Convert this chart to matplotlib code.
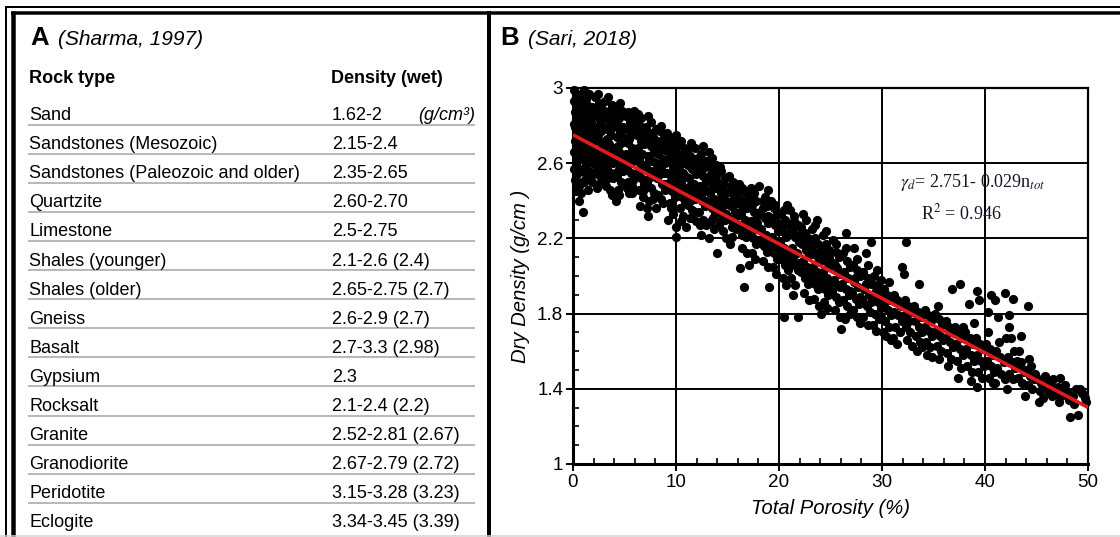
import matplotlib
matplotlib.use("Agg")
import matplotlib.pyplot as plt
from matplotlib.lines import Line2D
from matplotlib import font_manager
from matplotlib.ticker import MultipleLocator, FuncFormatter

# ---------------------------------------------------------------- data
rock_types = [
    "Sand", "Sandstones (Mesozoic)", "Sandstones (Paleozoic and older)",
    "Quartzite", "Limestone", "Shales (younger)", "Shales (older)", "Gneiss",
    "Basalt", "Gypsium", "Rocksalt", "Granite", "Granodiorite", "Peridotite",
    "Eclogite",
]
density_wet = [
    "1.62-2", "2.15-2.4", "2.35-2.65", "2.60-2.70", "2.5-2.75", "2.1-2.6 (2.4)",
    "2.65-2.75 (2.7)", "2.6-2.9 (2.7)", "2.7-3.3 (2.98)", "2.3", "2.1-2.4 (2.2)",
    "2.52-2.81 (2.67)", "2.67-2.79 (2.72)", "3.15-3.28 (3.23)", "3.34-3.45 (3.39)",
]
density_unit = "(g/cm³)"

# regression reported for the Sari (2018) data set
fit_intercept = 2.751
fit_slope = -0.029
fit_r2 = 0.946

# (total porosity %, dry density g/cm3) samples
samples_00_10 = [
    (0.1, 2.99), (0.3, 2.96), (0.1, 2.93), (0.4, 2.90), (0.2, 2.87), (0.5, 2.84), (0.1, 2.81),
    (0.3, 2.78), (0.6, 2.75), (0.2, 2.72), (0.4, 2.69), (0.1, 2.66), (0.5, 2.63), (0.3, 2.60),
    (0.1, 2.57), (0.4, 2.54), (0.2, 2.51), (0.6, 2.48), (0.3, 2.45), (0.8, 2.97), (0.7, 2.91),
    (0.9, 2.86), (0.7, 2.80), (0.9, 2.74), (0.8, 2.68), (0.7, 2.62), (0.9, 2.56), (0.6, 2.40),
    (0.5, 2.93), (0.2, 2.79), (0.7, 2.70), (0.4, 2.58), (0.9, 2.50), (0.5, 2.66), (0.8, 2.44),
    (1.1, 2.99), (1.3, 2.94), (1.6, 2.97), (1.2, 2.89), (1.5, 2.86), (1.8, 2.90), (1.1, 2.83),
    (1.4, 2.80), (1.7, 2.82), (1.2, 2.77), (1.6, 2.75), (1.9, 2.78), (1.3, 2.71), (1.5, 2.68),
    (1.8, 2.71), (1.1, 2.65), (1.4, 2.62), (1.7, 2.64), (1.2, 2.58), (1.6, 2.56), (1.9, 2.60),
    (1.3, 2.52), (1.8, 2.50), (1.5, 2.46), (1.0, 2.34),
    (1.4, 2.91), (1.9, 2.85), (1.2, 2.74), (1.7, 2.67), (1.3, 2.60), (1.9, 2.54), (1.1, 2.50),
    (2.1, 2.95), (2.5, 2.92), (2.8, 2.89), (2.2, 2.86), (2.6, 2.83), (2.9, 2.85), (2.3, 2.79),
    (2.7, 2.77), (2.1, 2.74), (2.5, 2.72), (2.8, 2.70), (2.2, 2.67), (2.6, 2.65), (2.9, 2.63),
    (2.4, 2.60), (2.7, 2.58), (2.2, 2.56), (2.6, 2.53), (2.9, 2.50), (2.3, 2.47),
    (2.4, 2.97), (2.3, 2.89), (2.8, 2.80), (2.4, 2.75), (2.9, 2.68), (2.3, 2.62), (2.8, 2.55),
    (2.5, 2.49),
    (3.1, 2.93), (3.5, 2.88), (3.8, 2.91), (3.2, 2.84), (3.6, 2.81), (3.9, 2.85), (3.3, 2.78),
    (3.7, 2.75), (3.1, 2.72), (3.5, 2.70), (3.8, 2.68), (3.2, 2.65), (3.6, 2.62), (3.9, 2.60),
    (3.3, 2.57), (3.7, 2.55), (3.4, 2.52), (3.8, 2.43), (3.2, 2.48),
    (3.4, 2.95), (3.4, 2.87), (3.9, 2.79), (3.3, 2.73), (3.9, 2.66), (3.4, 2.60), (3.9, 2.52),
    (3.6, 2.46),
    (4.1, 2.87), (4.5, 2.84), (4.8, 2.88), (4.2, 2.80), (4.6, 2.77), (4.9, 2.79), (4.3, 2.74),
    (4.7, 2.71), (4.1, 2.68), (4.5, 2.66), (4.8, 2.63), (4.2, 2.61), (4.6, 2.58), (4.9, 2.56),
    (4.3, 2.53), (4.7, 2.50), (4.4, 2.46), (4.6, 2.92), (4.2, 2.40),
    (4.4, 2.90), (4.3, 2.82), (4.9, 2.74), (4.4, 2.69), (4.9, 2.61), (4.4, 2.56), (4.9, 2.49),
    (4.5, 2.43),
    (5.1, 2.85), (5.5, 2.82), (5.9, 2.84), (5.2, 2.78), (5.6, 2.75), (5.9, 2.77), (5.3, 2.71),
    (5.7, 2.68), (5.1, 2.65), (5.5, 2.63), (5.8, 2.61), (5.2, 2.58), (5.6, 2.55), (5.9, 2.53),
    (5.3, 2.50), (5.7, 2.48), (5.4, 2.44), (5.7, 2.44), (5.9, 2.88),
    (5.3, 2.87), (5.8, 2.80), (5.4, 2.73), (5.9, 2.66), (5.4, 2.60), (5.8, 2.51), (5.2, 2.47),
    (6.1, 2.83), (6.0, 2.82), (6.5, 2.80), (6.8, 2.77), (6.2, 2.75), (6.6, 2.72), (6.9, 2.70),
    (6.3, 2.68), (6.7, 2.65), (6.1, 2.62), (6.5, 2.60), (6.8, 2.57), (6.2, 2.55), (6.6, 2.52),
    (6.9, 2.49), (6.4, 2.46), (6.5, 2.37), (6.8, 2.42), (6.3, 2.86),
    (6.6, 2.84), (6.4, 2.78), (6.9, 2.74), (6.4, 2.63), (6.9, 2.59), (6.4, 2.53), (6.8, 2.45),
    (7.3, 2.85), (7.1, 2.79), (7.5, 2.76), (7.8, 2.74), (7.2, 2.71), (7.6, 2.69), (7.9, 2.66),
    (7.3, 2.64), (7.7, 2.61), (7.1, 2.58), (7.5, 2.56), (7.8, 2.53), (7.2, 2.50), (7.6, 2.47),
    (7.9, 2.44), (7.3, 2.32), (7.4, 2.40),
    (7.6, 2.82), (7.4, 2.73), (7.9, 2.69), (7.4, 2.62), (7.9, 2.56), (7.4, 2.52), (7.8, 2.41),
    (7.2, 2.36),
    (8.1, 2.78), (8.5, 2.80), (8.8, 2.74), (8.2, 2.72), (8.6, 2.69), (8.9, 2.67), (8.3, 2.65),
    (8.7, 2.62), (8.1, 2.60), (8.5, 2.57), (8.8, 2.55), (8.2, 2.52), (8.6, 2.49), (8.9, 2.46),
    (8.3, 2.43), (8.1, 2.36), (8.7, 2.39),
    (8.4, 2.77), (8.9, 2.71), (8.4, 2.67), (8.9, 2.60), (8.4, 2.54), (8.9, 2.49), (8.5, 2.41),
    (9.1, 2.76), (9.5, 2.73), (9.8, 2.71), (9.2, 2.68), (9.6, 2.66), (9.9, 2.63), (9.3, 2.61),
    (9.7, 2.58), (9.1, 2.55), (9.5, 2.53), (9.8, 2.50), (9.2, 2.47), (9.6, 2.45), (9.9, 2.42),
    (9.4, 2.39), (9.7, 2.33), (9.2, 2.30),
    (9.4, 2.74), (9.9, 2.68), (9.4, 2.64), (9.9, 2.56), (9.4, 2.50), (9.9, 2.45), (9.5, 2.36),
]
samples_10_20 = [
    (10.0, 2.75), (10.4, 2.70), (10.8, 2.68), (10.2, 2.65), (10.6, 2.63), (10.9, 2.60),
    (10.3, 2.58), (10.7, 2.55), (10.1, 2.52), (10.5, 2.50), (10.8, 2.47), (10.2, 2.44),
    (10.6, 2.42), (10.9, 2.39), (10.4, 2.36), (10.0, 2.26), (10.0, 2.21), (10.7, 2.32),
    (10.5, 2.72), (10.9, 2.65), (10.4, 2.61), (10.9, 2.53), (10.4, 2.47), (10.9, 2.43),
    (10.5, 2.29),
    (11.5, 2.71), (11.1, 2.67), (11.4, 2.64), (11.8, 2.62), (11.2, 2.59), (11.6, 2.57),
    (11.9, 2.54), (11.3, 2.52), (11.7, 2.49), (11.1, 2.46), (11.5, 2.44), (11.8, 2.41),
    (11.2, 2.38), (11.6, 2.35), (11.0, 2.26), (11.4, 2.31), (11.9, 2.29),
    (11.8, 2.68), (11.4, 2.61), (11.9, 2.59), (11.4, 2.48), (11.9, 2.45), (11.4, 2.40),
    (11.8, 2.34),
    (12.6, 2.69), (12.1, 2.63), (12.4, 2.60), (12.8, 2.58), (12.2, 2.55), (12.6, 2.53),
    (12.9, 2.50), (12.3, 2.48), (12.7, 2.45), (12.1, 2.42), (12.5, 2.40), (12.8, 2.37),
    (12.2, 2.34), (12.6, 2.30), (12.9, 2.27), (12.4, 2.22),
    (12.4, 2.65), (12.9, 2.61), (12.4, 2.56), (12.9, 2.46), (12.4, 2.43), (12.9, 2.40),
    (12.3, 2.27),
    (13.2, 2.66), (13.1, 2.60), (13.5, 2.58), (13.8, 2.55), (13.2, 2.52), (13.6, 2.49),
    (13.9, 2.47), (13.3, 2.44), (13.7, 2.41), (13.1, 2.38), (13.5, 2.36), (13.8, 2.33),
    (13.4, 2.29), (13.7, 2.25), (13.2, 2.20),
    (13.5, 2.63), (13.9, 2.59), (13.4, 2.54), (13.9, 2.51), (13.4, 2.46), (13.9, 2.38),
    (13.6, 2.31),
    (14.0, 2.54), (14.4, 2.56), (14.8, 2.52), (14.2, 2.49), (14.6, 2.46), (14.9, 2.44),
    (14.3, 2.41), (14.7, 2.38), (14.1, 2.35), (14.5, 2.33), (14.8, 2.30), (14.2, 2.27),
    (14.6, 2.24), (14.0, 2.12), (14.9, 2.20),
    (14.3, 2.58), (14.7, 2.49), (14.4, 2.44), (14.9, 2.40), (14.4, 2.36), (14.9, 2.33),
    (14.4, 2.29),
    (15.1, 2.53), (15.5, 2.50), (15.8, 2.47), (15.2, 2.45), (15.6, 2.42), (15.9, 2.39),
    (15.3, 2.37), (15.7, 2.34), (15.1, 2.31), (15.5, 2.28), (15.8, 2.25), (15.2, 2.17),
    (15.4, 2.21), (15.4, 2.48), (15.9, 2.44), (15.4, 2.40), (15.9, 2.32), (15.4, 2.26),
    (16.1, 2.49), (16.5, 2.46), (16.8, 2.44), (16.2, 2.41), (16.6, 2.38), (16.9, 2.36),
    (16.3, 2.33), (16.7, 2.30), (16.1, 2.27), (16.5, 2.24), (16.8, 2.21), (16.2, 2.04),
    (16.6, 1.94), (16.4, 2.15), (16.9, 2.12),
    (16.4, 2.47), (16.9, 2.40), (16.4, 2.35), (16.9, 2.28), (16.4, 2.22),
    (17.1, 2.06), (17.3, 2.47), (17.5, 2.42), (17.8, 2.40), (17.2, 2.37), (17.6, 2.34),
    (17.9, 2.32), (17.3, 2.29), (17.7, 2.26), (17.1, 2.23), (17.5, 2.20), (17.8, 2.17),
    (17.4, 2.12), (17.7, 2.09),
    (17.6, 2.44), (17.4, 2.38), (17.9, 2.28), (17.4, 2.24), (17.9, 2.19),
    (18.1, 2.48), (18.9, 2.46), (18.4, 2.40), (18.8, 2.37), (18.2, 2.34), (18.6, 2.31),
    (18.9, 2.28), (18.3, 2.25), (18.7, 2.22), (18.1, 2.19), (18.5, 2.16), (18.8, 2.13),
    (18.4, 2.08), (18.9, 2.05),
    (18.6, 2.42), (18.4, 2.36), (18.9, 2.32), (18.4, 2.20), (18.9, 2.17),
    (19.0, 1.94), (19.2, 2.40), (19.5, 2.36), (19.8, 2.33), (19.2, 2.30), (19.6, 2.27),
    (19.9, 2.24), (19.3, 2.21), (19.7, 2.18), (19.1, 2.15), (19.5, 2.12), (19.8, 2.09),
    (19.4, 2.05), (19.7, 2.01),
    (19.6, 2.38), (19.4, 2.31), (19.9, 2.28), (19.4, 2.17), (19.9, 2.14),
]
samples_20_30 = [
    (20.8, 2.38), (20.5, 1.78), (20.2, 2.33), (20.6, 2.30), (20.9, 2.27), (20.3, 2.24),
    (20.7, 2.21), (20.1, 2.18), (20.5, 2.15), (20.8, 2.12), (20.2, 2.09), (20.6, 2.06),
    (20.9, 2.03), (20.4, 1.99), (20.7, 1.95),
    (20.5, 2.35), (20.4, 2.27), (20.9, 2.22), (20.4, 2.12), (20.9, 2.08),
    (21.8, 1.78), (21.1, 2.35), (21.5, 2.29), (21.8, 2.27), (21.2, 2.24), (21.6, 2.21),
    (21.9, 2.18), (21.3, 2.15), (21.7, 2.12), (21.1, 2.09), (21.5, 2.06), (21.8, 2.03),
    (21.2, 1.99), (21.6, 1.95), (21.4, 1.90),
    (21.5, 2.32), (21.4, 2.25), (21.9, 2.22), (21.4, 2.10), (21.9, 2.07),
    (22.3, 2.33), (22.1, 2.26), (22.5, 2.23), (22.8, 2.20), (22.2, 2.17), (22.6, 2.14),
    (22.9, 2.11), (22.3, 2.08), (22.7, 2.05), (22.1, 2.02), (22.5, 1.99), (22.8, 1.96),
    (22.4, 1.91), (22.9, 1.87),
    (22.6, 2.30), (22.4, 2.21), (22.9, 2.17), (22.4, 2.05), (22.9, 2.02),
    (23.7, 2.30), (23.2, 2.25), (23.5, 2.20), (23.8, 2.17), (23.2, 2.14), (23.6, 2.11),
    (23.9, 2.08), (23.3, 2.05), (23.7, 2.02), (23.1, 1.99), (23.5, 1.96), (23.8, 1.93),
    (23.4, 1.88), (23.9, 1.84),
    (23.5, 2.27), (23.4, 2.18), (23.9, 2.13), (23.4, 2.01), (23.9, 1.98),
    (24.1, 1.80), (24.3, 2.22), (24.6, 2.17), (24.9, 2.14), (24.2, 2.11), (24.6, 2.08),
    (24.9, 2.05), (24.3, 2.02), (24.7, 1.99), (24.1, 1.96), (24.5, 1.93), (24.8, 1.90),
    (24.4, 1.86), (24.7, 1.83),
    (24.6, 2.24), (24.4, 2.15), (24.9, 2.10), (24.4, 1.98), (24.9, 1.95),
    (25.2, 2.19), (25.5, 2.13), (25.8, 2.10), (25.2, 2.07), (25.6, 2.04), (25.9, 2.01),
    (25.3, 1.98), (25.7, 1.95), (25.1, 1.92), (25.5, 1.89), (25.8, 1.86), (25.4, 1.82),
    (25.9, 1.78), (25.5, 2.17), (25.4, 2.06), (25.9, 1.94),
    (26.5, 2.23), (26.0, 1.72), (26.2, 2.12), (26.6, 2.08), (26.9, 2.05), (26.3, 2.02),
    (26.7, 1.99), (26.1, 1.96), (26.5, 1.93), (26.8, 1.90), (26.2, 1.87), (26.6, 1.84),
    (26.9, 1.80), (26.4, 1.77), (26.5, 2.15), (26.4, 2.00), (26.9, 1.92),
    (27.3, 2.15), (27.2, 2.06), (27.6, 2.03), (27.9, 2.00), (27.3, 1.97), (27.7, 1.94),
    (27.1, 1.91), (27.5, 1.88), (27.8, 1.85), (27.2, 1.82), (27.6, 1.78), (27.9, 1.75),
    (27.6, 2.09), (27.4, 1.99), (27.9, 1.89),
    (28.4, 2.12), (28.2, 2.02), (28.6, 1.99), (28.9, 1.96), (28.3, 1.93), (28.7, 1.90),
    (28.1, 1.87), (28.5, 1.84), (28.8, 1.81), (28.2, 1.78), (28.6, 1.74), (28.9, 2.18),
    (28.6, 2.06), (28.4, 1.96), (28.9, 1.86),
    (29.9, 1.98), (29.9, 1.78), (29.2, 2.00), (29.5, 1.95), (29.8, 1.92), (29.2, 1.89),
    (29.6, 1.86), (29.9, 1.83), (29.3, 1.80), (29.7, 1.77), (29.1, 1.74), (29.4, 1.71),
    (29.5, 2.03), (29.4, 1.92), (29.9, 1.87),
]
samples_30_40 = [
    (30.7, 1.97), (30.2, 1.93), (30.5, 1.90), (30.8, 1.87), (30.2, 1.84), (30.6, 1.82),
    (30.9, 1.79), (30.3, 1.76), (30.7, 1.73), (30.1, 1.70), (30.4, 1.68), (30.9, 1.66),
    (31.9, 2.05), (31.2, 1.90), (31.5, 1.87), (31.8, 1.84), (31.2, 1.81), (31.6, 1.79),
    (31.9, 1.76), (31.3, 1.73), (31.7, 1.70), (31.1, 1.67), (31.5, 1.64),
    (32.3, 2.18), (32.1, 2.01), (32.2, 1.87), (32.5, 1.84), (32.8, 1.81), (32.2, 1.79),
    (32.6, 1.76), (32.9, 1.63), (32.3, 1.73), (32.7, 1.70), (32.4, 1.66),
    (33.6, 1.96), (33.4, 1.60), (33.1, 1.84), (33.5, 1.81), (33.8, 1.78), (33.2, 1.76),
    (33.6, 1.73), (33.9, 1.70), (33.3, 1.68), (33.7, 1.65), (33.9, 1.62),
    (34.2, 1.82), (34.5, 1.79), (34.8, 1.76), (34.2, 1.73), (34.6, 1.71), (34.9, 1.68),
    (34.3, 1.65), (34.7, 1.62), (34.4, 1.58), (34.9, 1.57),
    (35.5, 1.56), (35.1, 1.80), (35.5, 1.77), (35.8, 1.74), (35.2, 1.71), (35.6, 1.68),
    (35.9, 1.66), (35.3, 1.63), (35.7, 1.60), (35.4, 1.84),
    (36.8, 1.93), (36.2, 1.76), (36.5, 1.73), (36.8, 1.70), (36.2, 1.67), (36.6, 1.65),
    (36.9, 1.62), (36.3, 1.59), (36.7, 1.56), (36.4, 1.52),
    (37.6, 1.96), (37.4, 1.46), (37.1, 1.73), (37.5, 1.70), (37.8, 1.67), (37.2, 1.64),
    (37.6, 1.61), (37.9, 1.58), (37.3, 1.55), (37.7, 1.51), (37.9, 1.73),
    (38.4, 1.85), (38.6, 1.44), (38.1, 1.70), (38.5, 1.67), (38.8, 1.64), (38.2, 1.61),
    (38.6, 1.58), (38.9, 1.55), (38.3, 1.52), (38.7, 1.49), (38.9, 1.75),
    (39.2, 1.92), (39.4, 1.87), (39.2, 1.41), (39.1, 1.67), (39.5, 1.64), (39.8, 1.61),
    (39.2, 1.58), (39.6, 1.55), (39.9, 1.52), (39.3, 1.49), (39.7, 1.46),
]
samples_40_50 = [
    (40.3, 1.81), (40.1, 1.64), (40.5, 1.61), (40.8, 1.58), (40.2, 1.55), (40.6, 1.52),
    (40.9, 1.49), (40.4, 1.46), (40.8, 1.43), (40.3, 1.70), (40.6, 1.90),
    (41.0, 1.87), (41.3, 1.78), (41.0, 1.43), (41.1, 1.60), (41.5, 1.57), (41.8, 1.54),
    (41.2, 1.51), (41.6, 1.48), (41.9, 1.45), (41.4, 1.65), (41.9, 1.91),
    (42.3, 1.79), (42.3, 1.73), (42.0, 1.67), (42.5, 1.67), (42.1, 1.40), (42.2, 1.57),
    (42.6, 1.54), (42.9, 1.51), (42.3, 1.48), (42.7, 1.45), (42.8, 1.60), (42.7, 1.88),
    (43.5, 1.68), (43.5, 1.54), (43.9, 1.36), (43.1, 1.55), (43.4, 1.52), (43.8, 1.49),
    (43.2, 1.46), (43.6, 1.43), (43.9, 1.50), (43.3, 1.60),
    (44.5, 1.52), (44.1, 1.50), (44.4, 1.47), (44.8, 1.45), (44.2, 1.42), (44.6, 1.40),
    (44.9, 1.48), (44.3, 1.56), (44.2, 1.84),
    (45.2, 1.33), (45.6, 1.35), (45.8, 1.47), (45.1, 1.45), (45.4, 1.43), (45.9, 1.41),
    (45.3, 1.39), (45.7, 1.44),
    (46.1, 1.44), (46.4, 1.42), (46.8, 1.40), (46.2, 1.38), (46.6, 1.45), (46.9, 1.37),
    (46.5, 1.36),
    (47.3, 1.46), (47.4, 1.36), (47.1, 1.41), (47.6, 1.39), (47.8, 1.42), (47.2, 1.33),
    (47.9, 1.37),
    (48.3, 1.25), (48.1, 1.38), (48.5, 1.36), (48.8, 1.40), (48.2, 1.34), (48.6, 1.32),
    (49.0, 1.26), (49.2, 1.40), (49.7, 1.35), (49.4, 1.38), (49.8, 1.33), (49.5, 1.37),
]

x_ticks = [0, 10, 20, 30, 40, 50]
y_ticks = [1, 1.4, 1.8, 2.2, 2.6, 3]

# ---------------------------------------------------------------- fonts
installed = {f.name for f in font_manager.fontManager.ttflist}
SANS = "Liberation Sans" if "Liberation Sans" in installed else "DejaVu Sans"
if "Liberation Sans Narrow" in installed:
    NARROW, narrow_k = "Liberation Sans Narrow", 1.0
else:
    NARROW, narrow_k = SANS, 0.97
SERIF = "Liberation Serif" if "Liberation Serif" in installed else "DejaVu Serif"

# ---------------------------------------------------------------- canvas
W, H = 1120, 537
fig = plt.figure(figsize=(W / 100, H / 100), dpi=100)
fig.patch.set_facecolor("white")


def fx(px):
    return px / W


def fy(py):
    return 1 - py / H


def hline(y, x0, x1, lw_px, color="black"):
    fig.add_artist(Line2D([fx(x0), fx(x1)], [fy(y), fy(y)], transform=fig.transFigure,
                          lw=lw_px * 0.72, color=color, solid_capstyle="butt"))


def vline(x, y0, y1, lw_px, color="black"):
    fig.add_artist(Line2D([fx(x), fx(x)], [fy(y0), fy(y1)], transform=fig.transFigure,
                          lw=lw_px * 0.72, color=color, solid_capstyle="butt"))


# double outer frame and panel divider
hline(6.5, 5, W, 2)
hline(12.5, 11, W, 3.5)
vline(6, 5.5, H, 2)
vline(12.5, 11, H, 4.5)
vline(489, 11, H, 4)
hline(536, 0, W, 1.5, "#d4d4d4")

# ---------------------------------------------------------------- panel A: table
fig.text(fx(30), fy(45), "A", fontsize=18.5, fontweight="bold", family=SANS,
         ha="left", va="baseline")
fig.text(fx(58), fy(45), "(Sharma, 1997)", fontsize=15, fontstyle="italic", family=SANS,
         ha="left", va="baseline")

fig.text(fx(29), fy(83), "Rock type", fontsize=13, fontweight="bold", family=SANS,
         ha="left", va="baseline")
fig.text(fx(331), fy(83), "Density (wet)", fontsize=13, fontweight="bold", family=SANS,
         ha="left", va="baseline")

row0, step = 120.0, 29.1
for i, (rock, dens) in enumerate(zip(rock_types, density_wet)):
    yb = row0 + i * step
    fig.text(fx(29), fy(yb), rock, fontsize=13, family=SANS, ha="left", va="baseline")
    fig.text(fx(332), fy(yb), dens, fontsize=13, family=SANS, ha="left", va="baseline")
    if i < len(rock_types) - 1:
        hline(yb + 4.5, 28, 475, 1.6, "#a8a8a8")
fig.text(fx(475), fy(row0), density_unit, fontsize=13, fontstyle="italic", family=SANS,
         ha="right", va="baseline")

# ---------------------------------------------------------------- panel B: scatter
fig.text(fx(500), fy(45), "B", fontsize=18.5, fontweight="bold", family=SANS,
         ha="left", va="baseline")
fig.text(fx(528), fy(45), "(Sari, 2018)", fontsize=15, fontstyle="italic", family=SANS,
         ha="left", va="baseline")

left, right, top, bottom = 573, 1088, 88, 464
ax = fig.add_axes([fx(left), fy(bottom), (right - left) / W, (bottom - top) / H])
ax.set_facecolor("white")
ax.set_xlim(0, 50)
ax.set_ylim(1, 3)

samples = samples_00_10 + samples_10_20 + samples_20_30 + samples_30_40 + samples_40_50
porosity = [p for p, _ in samples]
dry_density = [d for _, d in samples]
ax.scatter(porosity, dry_density, s=44, c="black", linewidths=0, zorder=3, clip_on=False)

fit_x = [0, 50]
fit_y = [fit_intercept + fit_slope * v for v in fit_x]
ax.plot(fit_x, fit_y, color="#e3191c", lw=2.6, zorder=4, solid_capstyle="butt")

ax.set_xticks(x_ticks)
ax.set_yticks(y_ticks)
ax.yaxis.set_major_formatter(FuncFormatter(lambda v, _: f"{v:g}"))
ax.xaxis.set_minor_locator(MultipleLocator(2))
ax.yaxis.set_minor_locator(MultipleLocator(0.1))
ax.grid(True, which="major", color="black", lw=1.4, zorder=1)
ax.set_axisbelow(True)
ax.tick_params(which="major", direction="out", length=5, width=1.4, pad=2,
               labelsize=14 * narrow_k, labelfontfamily=NARROW)
ax.tick_params(which="minor", direction="in", length=4, width=1.2)
for side in ("left", "bottom"):
    ax.spines[side].set_linewidth(2.2)
for side in ("top", "right"):
    ax.spines[side].set_linewidth(1.6)

ax.set_xlabel("Total Porosity (%)", fontsize=15 * narrow_k, fontstyle="italic",
              family=NARROW, labelpad=6)
ax.set_ylabel("Dry Density (g/cm )", fontsize=15 * narrow_k, fontstyle="italic",
              family=NARROW, labelpad=5)

eq = f"$\\gamma_d$= {fit_intercept:.3f}- {abs(fit_slope):.3f}n$_{{tot}}$"
ax.text(38.8, 2.495, eq, fontsize=13, family=SERIF, math_fontfamily="stix",
        color="#141428", ha="center", va="center", zorder=5)
ax.text(37.7, 2.335, f"R$^2$ = {fit_r2:.3f}", fontsize=13, family=SERIF,
        math_fontfamily="stix", color="#141428", ha="center", va="center", zorder=5)

fig.savefig("out.png", dpi=100, facecolor="white")
